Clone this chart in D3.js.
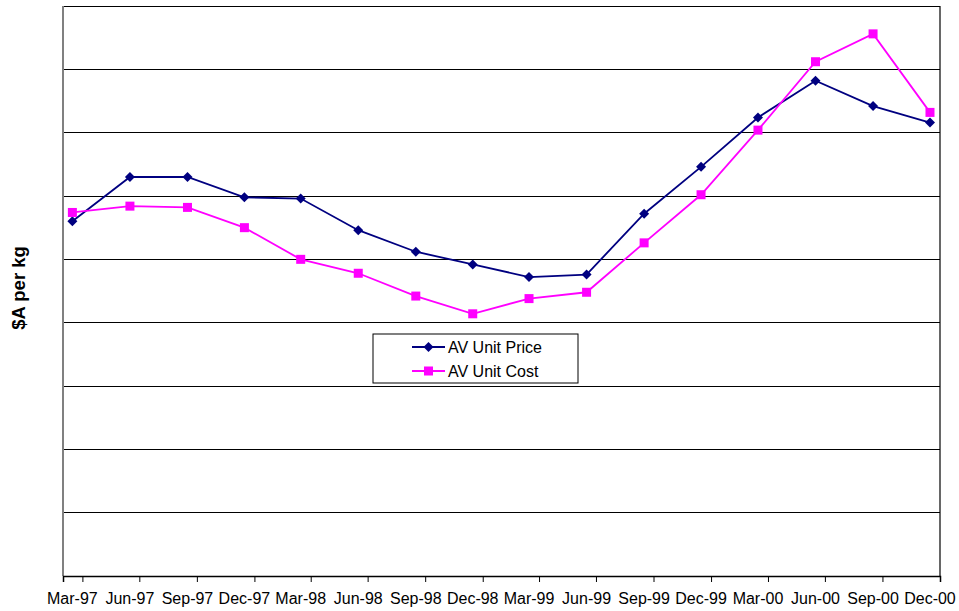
<!DOCTYPE html>
<html>
<head>
<meta charset="utf-8">
<script src="https://cdn.jsdelivr.net/npm/d3@7"></script>
<style>
  html, body { margin: 0; padding: 0; background: #fff; }
  svg text { font-family: Arial, "Liberation Sans", sans-serif; }
</style>
</head>
<body>
<svg id="chart" width="959" height="611"></svg>
<script>
// Quarterly observation dates (mid-month) and their axis labels
const quarters = ["1997-03-16","1997-06-16","1997-09-16","1997-12-16",
                  "1998-03-16","1998-06-16","1998-09-16","1998-12-16",
                  "1999-03-16","1999-06-16","1999-09-16","1999-12-16",
                  "2000-03-16","2000-06-16","2000-09-16","2000-12-16"];
const quarterLabels = ["Mar-97","Jun-97","Sep-97","Dec-97","Mar-98","Jun-98","Sep-98","Dec-98",
                       "Mar-99","Jun-99","Sep-99","Dec-99","Mar-00","Jun-00","Sep-00","Dec-00"];

// Average unit price and cost, $A per kg
const unitPrice = [2.80, 3.15, 3.15, 2.99, 2.98, 2.73, 2.56, 2.46,
                   2.36, 2.38, 2.86, 3.23, 3.62, 3.91, 3.71, 3.58];
const unitCost  = [2.87, 2.92, 2.91, 2.75, 2.50, 2.39, 2.21, 2.07,
                   2.19, 2.24, 2.63, 3.01, 3.52, 4.06, 4.28, 3.66];

const seriesNames = ["AV Unit Price", "AV Unit Cost"];
const yMax = 4.5, yStep = 0.5;

const svg = d3.select("#chart");
const margin = { left: 63, top: 6, right: 19, bottom: 35 };
const W = 959, H = 611;
const plotW = W - margin.left - margin.right;
const plotH = H - margin.top - margin.bottom;

const parse = d3.utcParse("%Y-%m-%d");
const dates = quarters.map(parse);

const x = d3.scaleUtc()
  .domain([new Date(Date.UTC(1997, 2, 1)), new Date(Date.UTC(2001, 0, 1))])
  .range([margin.left, margin.left + plotW]);
const y = d3.scaleLinear()
  .domain([0, yMax])
  .range([margin.top + plotH, margin.top]);

// Horizontal gridlines
const gridVals = d3.range(yStep, yMax + yStep / 2, yStep);
svg.append("g").selectAll("line").data(gridVals).join("line")
  .attr("x1", margin.left).attr("x2", margin.left + plotW)
  .attr("y1", d => y(d)).attr("y2", d => y(d))
  .attr("stroke", "#000").attr("stroke-width", 1)
  .attr("shape-rendering", "crispEdges");

// Right border of the plot area
svg.append("line")
  .attr("x1", margin.left + plotW).attr("x2", margin.left + plotW)
  .attr("y1", y(yMax)).attr("y2", y(0))
  .attr("stroke", "#000").attr("stroke-width", 1.2);

// Left (value) axis line
svg.append("line")
  .attr("x1", margin.left).attr("x2", margin.left)
  .attr("y1", y(yMax)).attr("y2", y(0))
  .attr("stroke", "#808080").attr("stroke-width", 2);

// Bottom axis with quarterly tick marks
const xAxis = d3.axisBottom(x)
  .ticks(d3.utcMonth.every(3))
  .tickSize(6)
  .tickFormat("");
const gx = svg.append("g")
  .attr("transform", `translate(0,${y(0)})`)
  .call(xAxis);
gx.select(".domain").attr("stroke", "#000").attr("stroke-width", 1.5);
gx.selectAll(".tick line").attr("stroke", "#000").attr("stroke-width", 1);

// Category labels centred under each quarter
svg.append("g").selectAll("text").data(quarterLabels).join("text")
  .attr("x", (d, i) => x(dates[i]))
  .attr("y", y(0) + 28)
  .attr("text-anchor", "middle")
  .attr("font-size", 16)
  .attr("fill", "#000")
  .text(d => d);

// Y axis title
svg.append("text")
  .attr("transform", `translate(25,288) rotate(-90)`)
  .attr("text-anchor", "middle")
  .attr("font-size", 18.5)
  .attr("font-weight", "bold")
  .text("$A per kg");

const line = d3.line()
  .x((d, i) => x(dates[i]))
  .y(d => y(d));

const diamondPath = "M0,-5L5,0L0,5L-5,0Z";

// Unit price series (navy, diamonds)
svg.append("path").datum(unitPrice)
  .attr("d", line).attr("fill", "none")
  .attr("stroke", "#000080").attr("stroke-width", 1.8);
svg.append("g").selectAll("path").data(unitPrice).join("path")
  .attr("transform", (d, i) => `translate(${x(dates[i])},${y(d)})`)
  .attr("d", diamondPath)
  .attr("fill", "#000080");

// Unit cost series (magenta, squares)
svg.append("path").datum(unitCost)
  .attr("d", line).attr("fill", "none")
  .attr("stroke", "#FF00FF").attr("stroke-width", 1.8);
svg.append("g").selectAll("rect").data(unitCost).join("rect")
  .attr("x", (d, i) => x(dates[i]) - 4.5)
  .attr("y", d => y(d) - 4.5)
  .attr("width", 9).attr("height", 9)
  .attr("fill", "#FF00FF");

// Legend
const lg = svg.append("g").attr("transform", "translate(373,334)");
lg.append("rect")
  .attr("width", 205).attr("height", 49)
  .attr("fill", "#fff").attr("stroke", "#000").attr("stroke-width", 1);
const legendItems = [
  { name: seriesNames[0], color: "#000080", marker: "diamond" },
  { name: seriesNames[1], color: "#FF00FF", marker: "square" }
];
const li = lg.selectAll("g.item").data(legendItems).join("g")
  .attr("class", "item")
  .attr("transform", (d, i) => `translate(0,${13 + i * 24})`);
li.append("line")
  .attr("x1", 39).attr("x2", 72).attr("y1", 0).attr("y2", 0)
  .attr("stroke", d => d.color).attr("stroke-width", 1.8);
li.filter(d => d.marker === "diamond").append("path")
  .attr("transform", "translate(55.5,0)")
  .attr("d", diamondPath).attr("fill", d => d.color);
li.filter(d => d.marker === "square").append("rect")
  .attr("x", 51).attr("y", -4.5).attr("width", 9).attr("height", 9)
  .attr("fill", d => d.color);
li.append("text")
  .attr("x", 75).attr("y", 6)
  .attr("font-size", 16)
  .attr("fill", "#000")
  .text(d => d.name);
</script>
</body>
</html>
